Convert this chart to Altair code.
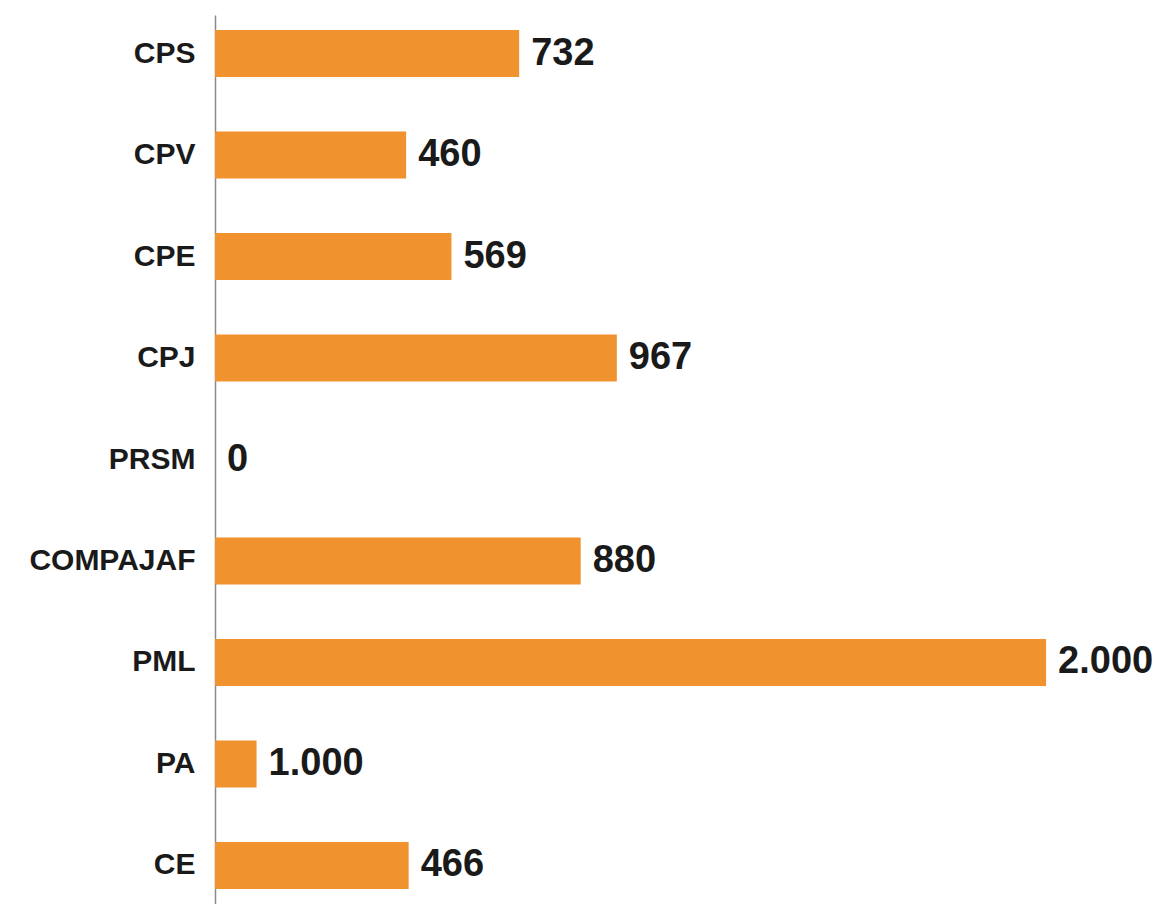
import altair as alt
import pandas as pd

categories = ["CPS", "CPV", "CPE", "CPJ", "PRSM", "COMPAJAF", "PML", "PA", "CE"]
bar_values = [732, 460, 569, 967, 0, 880, 2000, 100, 466]
value_labels = ["732", "460", "569", "967", "0", "880", "2.000", "1.000", "466"]

df = pd.DataFrame({"cat": categories, "value": bar_values, "label": value_labels})

FONT = "Liberation Sans"
TEXT_COLOR = "#1a1a1a"
X_SCALE = alt.Scale(domain=[0, 2214], nice=False)

base = alt.Chart(df).encode(
    y=alt.Y(
        "cat:N",
        sort=categories,
        scale=alt.Scale(paddingInner=0.537, paddingOuter=0.148),
        axis=alt.Axis(
            title=None,
            ticks=False,
            grid=False,
            labelFontSize=30,
            labelFont=FONT,
            labelFontWeight="bold",
            labelColor=TEXT_COLOR,
            labelPadding=20,
            domainColor="#8a8a8a",
            domainWidth=1.5,
        ),
    )
)

bars = base.mark_bar(color="#F0922E").encode(
    x=alt.X("value:Q", scale=X_SCALE, axis=None)
)

text = base.mark_text(
    align="left", baseline="middle", dx=12, fontSize=38, fontWeight="bold",
    font=FONT, color=TEXT_COLOR
).encode(
    x=alt.X("value:Q", scale=X_SCALE, axis=None),
    text="label:N",
)

chart = (bars + text).properties(
    width=920,
    height=889,
    autosize=alt.AutoSizeParams(type="none"),
    padding={"left": 207, "top": 7, "right": 25, "bottom": 0},
).configure(background="white").configure_view(stroke=None)

chart.save("out.html", embed_options={"renderer": "svg", "actions": False})
